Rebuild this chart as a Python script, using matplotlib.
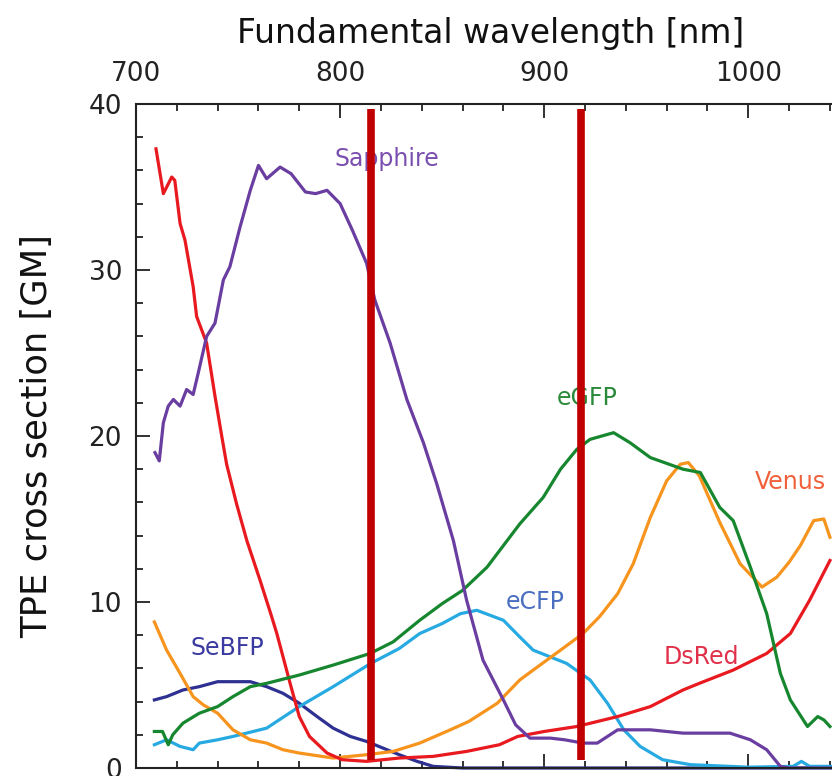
import numpy as np
import matplotlib
matplotlib.use("Agg")
import matplotlib.pyplot as plt
from matplotlib.ticker import MultipleLocator

# two-photon excitation spectra (wavelength nm, GM)
sapphire_nm = [709.3, 711.4, 713.4, 715.8, 718.3, 721.6, 724.8, 728, 730.5, 734.6, 738.7, 742.8, 746, 751, 756,
               760, 764, 770.6, 776, 783, 788, 793.6, 800, 806, 813, 817, 824.5, 832.7, 840.8, 847.4, 855.5,
               862, 870, 880, 886, 893, 903, 910, 919, 926, 931, 936, 952, 968, 976, 991, 1001, 1009, 1015.7,
               1020, 1041]
sapphire_gm = [19.0, 18.5, 20.8, 21.8, 22.2, 21.8, 22.8, 22.5, 23.8, 26.0, 26.8, 29.4, 30.2, 32.6, 34.8,
               36.3, 35.5, 36.2, 35.8, 34.7, 34.6, 34.8, 34.0, 32.4, 30.4, 28.2, 25.6, 22.2, 19.6, 17.1, 13.7,
               10.1, 6.5, 4.1, 2.6, 1.8, 1.8, 1.7, 1.5, 1.5, 1.9, 2.3, 2.3, 2.1, 2.1, 2.1, 1.7, 1.1, 0.1,
               0, 0]

dsred_nm = [709.8, 713.4, 717.5, 719, 721.6, 724, 728, 729.7, 734.6, 738.7, 742, 744.4, 749.3, 754.3, 760.8,
            766, 769, 775.5, 780, 785, 793.6, 801, 813, 829, 845.6, 862, 878, 887, 900, 916, 936, 952, 968,
            976, 992.6, 1009, 1020.6, 1030, 1035, 1040]
dsred_gm = [37.3, 34.6, 35.6, 35.4, 32.8, 31.8, 29.0, 27.2, 25.6, 22.4, 20.0, 18.3, 15.9, 13.7, 11.3,
            9.3, 8.1, 5.1, 3.1, 1.9, 0.9, 0.5, 0.4, 0.6, 0.7, 1.0, 1.4, 1.9, 2.2, 2.5, 3.1, 3.7, 4.7,
            5.1, 5.9, 6.9, 8.1, 10.1, 11.3, 12.5]

venus_nm = [709, 715, 721.6, 728, 733, 740, 747.5, 756, 764, 772, 780, 796.6, 813, 826, 839, 854, 863, 877,
            888, 894.6, 908, 919, 927, 936, 943.6, 952, 960, 966.7, 970.6, 976, 986, 996, 1006.7, 1014, 1020,
            1025.5, 1032, 1037, 1040]
venus_gm = [8.8, 7.1, 5.7, 4.3, 3.8, 3.3, 2.3, 1.7, 1.5, 1.1, 0.9, 0.6, 0.8, 1.0, 1.5, 2.3, 2.8, 3.9,
            5.3, 5.9, 7.1, 8.1, 9.1, 10.5, 12.3, 15.1, 17.3, 18.3, 18.4, 17.6, 14.8, 12.3, 10.9, 11.5, 12.4,
            13.4, 14.9, 15.0, 13.9]

egfp_nm = [709, 713, 715.8, 718, 723, 731, 740, 747.5, 756, 764, 780, 796.6, 814.7, 826, 839, 850, 860, 872,
           888, 899.5, 908, 916, 922.5, 934, 942, 952, 968, 976.5, 986, 992.6, 1001, 1009, 1015.7, 1020.6,
           1029, 1034, 1037, 1040]
egfp_gm = [2.2, 2.2, 1.4, 2.0, 2.7, 3.3, 3.7, 4.3, 4.9, 5.1, 5.6, 6.2, 6.9, 7.6, 8.9, 9.9, 10.7, 12.1,
           14.7, 16.3, 18.0, 19.2, 19.8, 20.2, 19.6, 18.7, 18.0, 17.8, 15.7, 14.9, 12.1, 9.3, 5.7, 4.1,
           2.5, 3.1, 2.9, 2.5]

ecfp_nm = [709, 715, 721.6, 728, 731, 740, 747.5, 764, 780, 796.6, 815, 829, 839, 850, 859, 867, 880, 888,
           894.6, 911, 922.5, 931, 939, 947, 958, 971.6, 1000, 1022, 1026, 1030, 1041]
ecfp_gm = [1.4, 1.7, 1.3, 1.1, 1.5, 1.7, 1.9, 2.4, 3.7, 4.9, 6.3, 7.2, 8.1, 8.7, 9.3, 9.5, 8.9, 7.9,
           7.1, 6.3, 5.3, 3.9, 2.3, 1.3, 0.5, 0.2, 0.05, 0.1, 0.4, 0.1, 0.1]

sebfp_nm = [709, 715, 723, 731, 740, 756, 764, 772, 780, 788.7, 796.6, 805, 813, 821, 829, 837.7, 845.6, 860, 1041]
sebfp_gm = [4.1, 4.3, 4.7, 4.9, 5.2, 5.2, 4.9, 4.5, 3.9, 3.1, 2.4, 1.9, 1.6, 1.2, 0.8, 0.4, 0.1, 0, 0]

laser_lines = [815, 918]

labels = ["Sapphire", "eGFP", "Venus", "eCFP", "DsRed", "SeBFP"]
label_x = [823, 921, 1020.6, 895.6, 977, 744.6]
label_y = [36.7, 22.3, 17.2, 10.0, 6.7, 7.2]
label_colors = ["#7a4fb0", "#2a8a3a", "#f0603a", "#4a6fc0", "#e0304a", "#3a3aa0"]

fig = plt.figure(figsize=(8.32, 7.76), dpi=100)
ax = fig.add_axes([136 / 832, 8 / 776, 1 - 136 / 832, 664 / 776])

lw = 2.3
ax.plot(sebfp_nm, sebfp_gm, color="#2e3192", lw=lw, clip_on=False)
ax.plot(ecfp_nm, ecfp_gm, color="#27aae1", lw=lw)
ax.plot(venus_nm, venus_gm, color="#f7941d", lw=lw)
ax.plot(dsred_nm, dsred_gm, color="#e8191f", lw=lw)
ax.plot(egfp_nm, egfp_gm, color="#17872f", lw=lw)
ax.plot(sapphire_nm, sapphire_gm, color="#6a3ea1", lw=lw)

for name, x, y, c in zip(labels, label_x, label_y, label_colors):
    ax.text(x, y, name, color=c, fontsize=17, ha="center", va="center")

ax.vlines(laser_lines, 0.5, 39.7, colors="#c00000", lw=5.5, zorder=5)

ax.set_xlim(700, 1041)
ax.set_ylim(0, 40)
ax.xaxis.tick_top()
ax.xaxis.set_label_position("top")
ax.xaxis.set_major_locator(MultipleLocator(100))
ax.xaxis.set_minor_locator(MultipleLocator(20))
ax.yaxis.set_major_locator(MultipleLocator(10))
ax.yaxis.set_minor_locator(MultipleLocator(2))
ax.tick_params(which="both", direction="in", top=True, bottom=True, left=True, right=False,
               labelsize=19, colors="#222222", width=1.3)
ax.tick_params(which="major", length=10)
ax.tick_params(which="minor", length=5)
ax.tick_params(axis="x", pad=12)
ax.tick_params(axis="y", pad=10)
ax.spines["right"].set_visible(False)
for s in ["top", "bottom", "left"]:
    ax.spines[s].set_linewidth(1.5)
    ax.spines[s].set_color("#222222")

ax.set_xlabel("Fundamental wavelength [nm]", fontsize=23.7, labelpad=13, color="#111111")
ax.xaxis.label.set_x(0.51)
ax.set_ylabel("TPE cross section [GM]", fontsize=25.5, labelpad=25, color="#111111")

fig.savefig("out.png", dpi=100)
